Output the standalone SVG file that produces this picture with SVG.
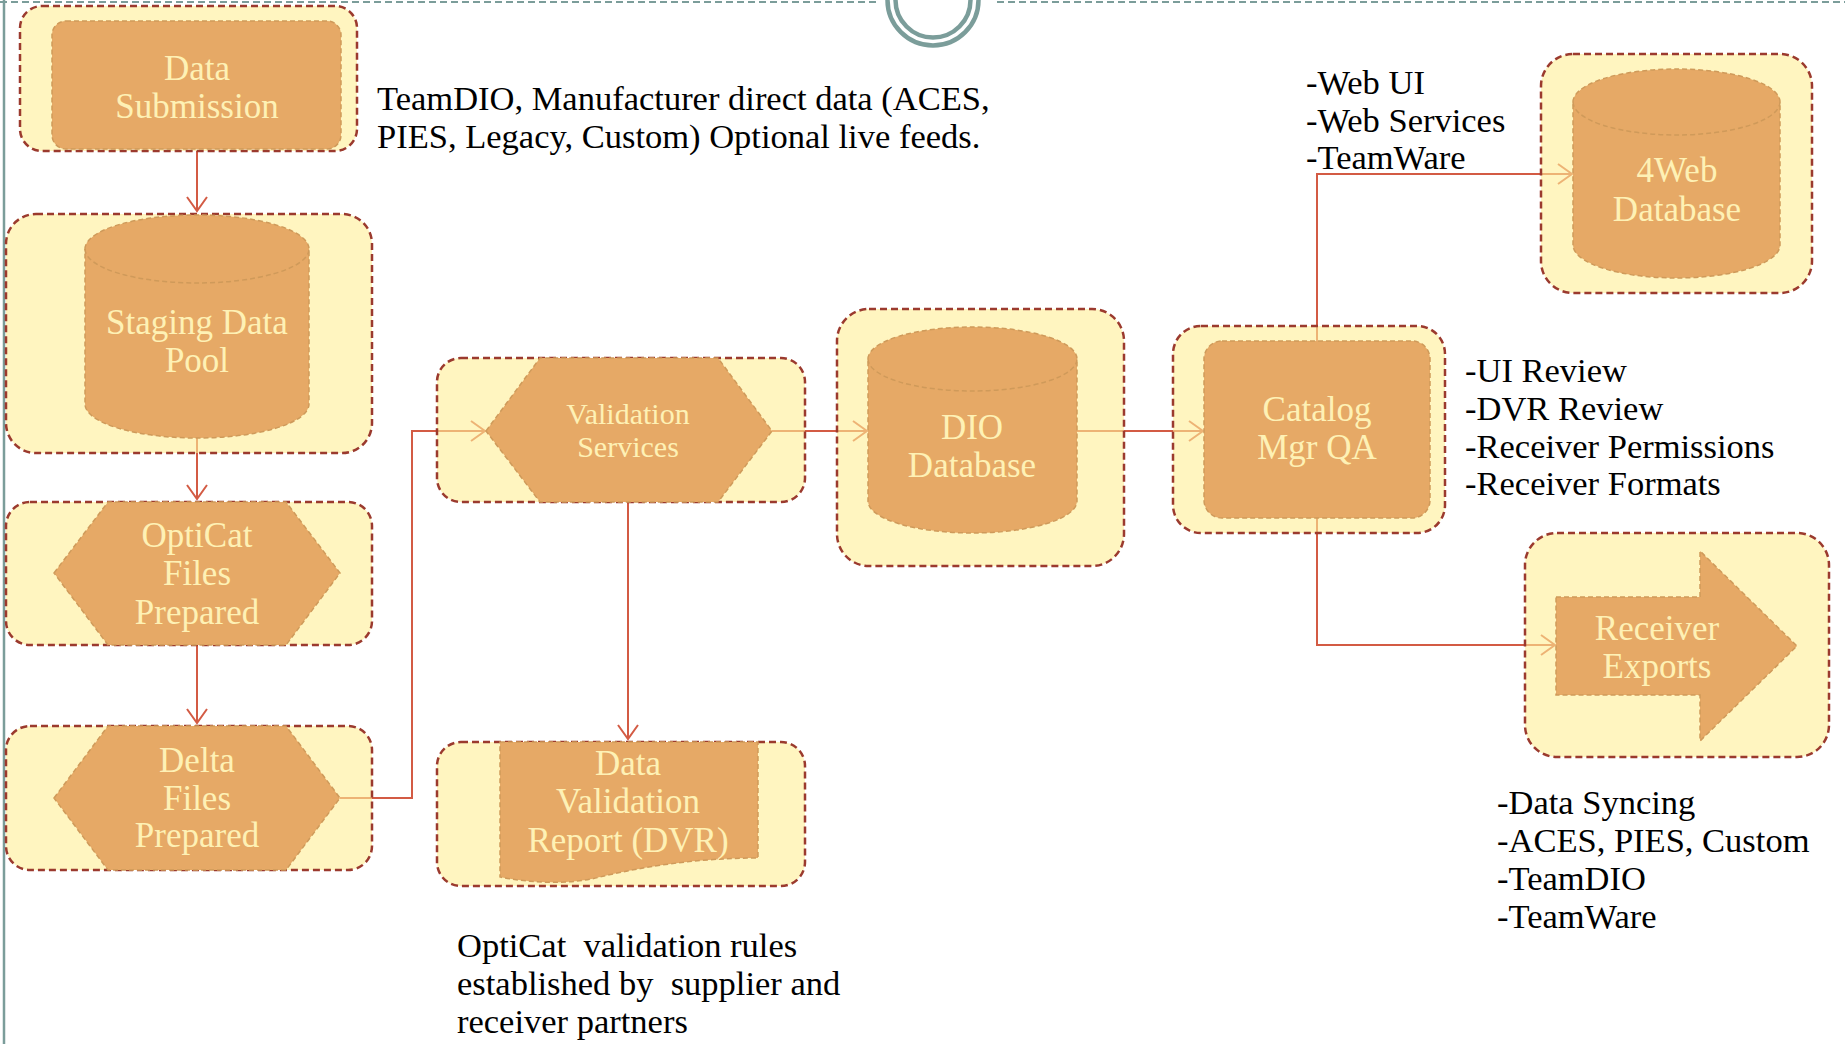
<svg xmlns="http://www.w3.org/2000/svg" width="1845" height="1044" viewBox="0 0 1845 1044">
<defs>
<style>
.outer{fill:#FFEE96;fill-opacity:0.6;stroke:#9B3A2E;stroke-width:2.5;stroke-dasharray:7 4;}
.inner{fill:#E6A966;stroke:#CF9A5A;stroke-width:1.5;stroke-dasharray:5 3;}
.seam{fill:none;stroke:#CF9A5A;stroke-width:1.5;stroke-dasharray:5 3;}
.lbl{font-family:"Liberation Serif",serif;font-size:35px;fill:#FEF1B5;text-anchor:middle;}
.sm{font-size:30px;}
.note{font-family:"Liberation Serif",serif;font-size:34.5px;fill:#000;}
.conn{fill:none;stroke:#D35B44;stroke-width:2;marker-end:url(#arr);}
.frame{fill:none;stroke:#7B9D9A;}
</style>
<marker id="arr" markerUnits="userSpaceOnUse" markerWidth="18" markerHeight="24" refX="15" refY="11" orient="auto">
<path d="M1,1 L15,11 L1,21" fill="none" stroke="#D35B44" stroke-width="2"/>
</marker>
</defs>
<rect width="1845" height="1044" fill="#fff"/>
<g id="frame">
<line class="frame" x1="4" y1="0" x2="4" y2="1044" stroke-width="2.5"/>
<line class="frame" x1="0" y1="2" x2="880" y2="2" stroke-width="2" stroke-dasharray="7 4"/>
<line class="frame" x1="997" y1="2" x2="1845" y2="2" stroke-width="2" stroke-dasharray="7 4"/>
<circle class="frame" cx="933" cy="0" r="45.5" stroke-width="4.5"/>
<circle class="frame" cx="933" cy="0" r="37.5" stroke-width="4.5"/>
</g>
<g id="connectors">
<line class="conn" x1="197" y1="151" x2="197" y2="211"/>
<line class="conn" x1="197" y1="438" x2="197" y2="499"/>
<line class="conn" x1="197" y1="645" x2="197" y2="723"/>
<polyline class="conn" points="340,798 412,798 412,431 485,431"/>
<line class="conn" x1="772" y1="431" x2="867" y2="431"/>
<line class="conn" x1="628" y1="502" x2="628" y2="739"/>
<line class="conn" x1="1077" y1="431" x2="1203" y2="431"/>
<polyline class="conn" points="1317,341 1317,174 1572,174"/>
<polyline class="conn" points="1317,518 1317,645 1555,645"/>
</g>
<g id="data-submission">
<rect class="outer" x="20" y="6" width="337" height="145" rx="22"/>
<rect class="inner" x="52" y="21" width="289" height="128" rx="14"/>
<text class="lbl" x="197" y="80">Data</text>
<text class="lbl" x="197" y="118">Submission</text>
</g>
<g id="staging-data-pool">
<rect class="outer" x="6" y="214" width="366" height="239" rx="30"/>
<path class="inner" d="M85,249 A112,34 0 0 1 309,249 L309,404 A112,34 0 0 1 85,404 Z"/>
<path class="seam" d="M85,249 A112,34 0 0 0 309,249"/>
<text class="lbl" x="197" y="334">Staging Data</text>
<text class="lbl" x="197" y="372">Pool</text>
</g>
<g id="opticat-files-prepared">
<rect class="outer" x="6" y="502" width="366" height="143" rx="24"/>
<polygon class="inner" points="54,573 108,502 286,502 340,573 286,645 108,645"/>
<text class="lbl" x="197" y="547">OptiCat</text>
<text class="lbl" x="197" y="585">Files</text>
<text class="lbl" x="197" y="624">Prepared</text>
</g>
<g id="delta-files-prepared">
<rect class="outer" x="6" y="726" width="366" height="144" rx="24"/>
<polygon class="inner" points="54,798 108,726 286,726 340,798 286,870 108,870"/>
<text class="lbl" x="197" y="772">Delta</text>
<text class="lbl" x="197" y="810">Files</text>
<text class="lbl" x="197" y="847">Prepared</text>
</g>
<g id="validation-services">
<rect class="outer" x="437" y="358" width="368" height="144" rx="24"/>
<polygon class="inner" points="486,431 540,358 718,358 772,431 718,502 540,502"/>
<text class="lbl sm" x="628" y="424">Validation</text>
<text class="lbl sm" x="628" y="457">Services</text>
</g>
<g id="data-validation-report">
<rect class="outer" x="437" y="742" width="368" height="144" rx="24"/>
<path class="inner" d="M500,742 H758 V858 C700,858 645,866 600,877 C570,885 530,883 500,877 Z"/>
<text class="lbl" x="628" y="775">Data</text>
<text class="lbl" x="628" y="813">Validation</text>
<text class="lbl" x="628" y="852">Report (DVR)</text>
</g>
<g id="dio-database">
<rect class="outer" x="837" y="309" width="287" height="257" rx="32"/>
<path class="inner" d="M868,359 A104.5,32 0 0 1 1077,359 L1077,501 A104.5,32 0 0 1 868,501 Z"/>
<path class="seam" d="M868,359 A104.5,32 0 0 0 1077,359"/>
<text class="lbl" x="972" y="439">DIO</text>
<text class="lbl" x="972" y="477">Database</text>
</g>
<g id="catalog-mgr-qa">
<rect class="outer" x="1173" y="326" width="272" height="207" rx="28"/>
<rect class="inner" x="1204" y="341" width="226" height="177" rx="18"/>
<text class="lbl" x="1317" y="421">Catalog</text>
<text class="lbl" x="1317" y="459">Mgr QA</text>
</g>
<g id="web-database">
<rect class="outer" x="1541" y="54" width="271" height="239" rx="32"/>
<path class="inner" d="M1573,102 A103.5,33 0 0 1 1780,102 L1780,245 A103.5,33 0 0 1 1573,245 Z"/>
<path class="seam" d="M1573,102 A103.5,33 0 0 0 1780,102"/>
<text class="lbl" x="1677" y="182">4Web</text>
<text class="lbl" x="1677" y="221">Database</text>
</g>
<g id="receiver-exports">
<rect class="outer" x="1525" y="533" width="304" height="224" rx="32"/>
<polygon class="inner" points="1556,597 1700,597 1700,551 1797,646 1700,741 1700,695 1556,695"/>
<text class="lbl" x="1657" y="640">Receiver</text>
<text class="lbl" x="1657" y="678">Exports</text>
</g>
<g id="notes">
<text class="note" x="377" y="110">TeamDIO, Manufacturer direct data (ACES,</text>
<text class="note" x="377" y="148">PIES, Legacy, Custom) Optional live feeds.</text>
<text class="note" x="1306" y="94">-Web UI</text>
<text class="note" x="1306" y="132">-Web Services</text>
<text class="note" x="1306" y="169">-TeamWare</text>
<text class="note" x="1465" y="382">-UI Review</text>
<text class="note" x="1465" y="420">-DVR Review</text>
<text class="note" x="1465" y="458">-Receiver Permissions</text>
<text class="note" x="1465" y="495">-Receiver Formats</text>
<text class="note" x="1497" y="814">-Data Syncing</text>
<text class="note" x="1497" y="852">-ACES, PIES, Custom</text>
<text class="note" x="1497" y="890">-TeamDIO</text>
<text class="note" x="1497" y="928">-TeamWare</text>
<text class="note" x="457" y="957" xml:space="preserve">OptiCat  validation rules</text>
<text class="note" x="457" y="995" xml:space="preserve">established by  supplier and</text>
<text class="note" x="457" y="1033">receiver partners</text>
</g>
</svg>
